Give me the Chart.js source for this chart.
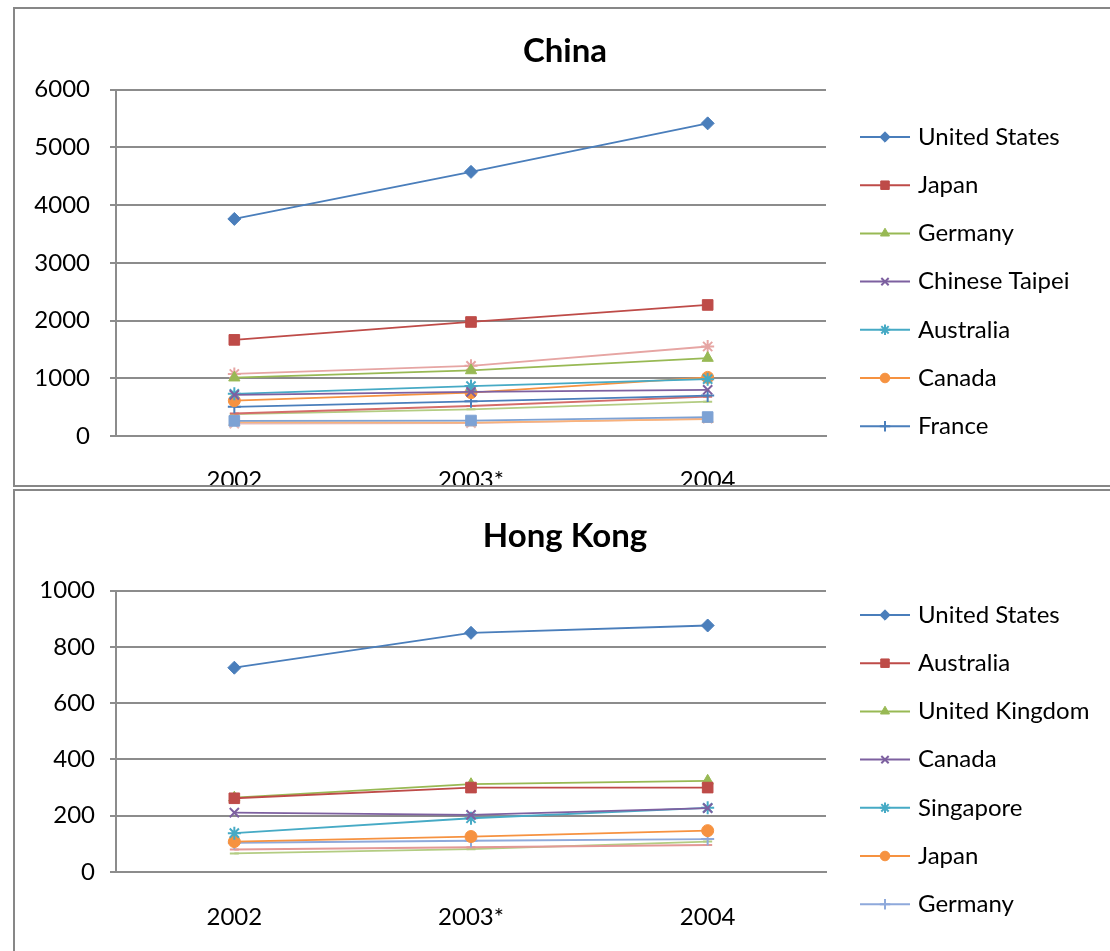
<!DOCTYPE html>
<html>
<head>
<meta charset="utf-8">
<script src="https://cdn.jsdelivr.net/npm/chart.js@4/dist/chart.umd.min.js"></script>
<style>
    html, body { margin: 0; padding: 0; background: #fff; overflow: hidden; }
    body { width: 1110px; height: 951px; position: relative; }
    canvas { position: absolute; left: 0; }
    .frame { position: absolute; left: 13px; width: 1200px; border: 2px solid #878787; border-right: none; pointer-events: none; }
</style>
</head>
<body>
<canvas id="chinaChart" width="1110" height="486" style="top:0"></canvas>
<canvas id="hongKongChart" width="1110" height="463" style="top:488px"></canvas>
<div class="frame" style="top:7px; height:476px;"></div>
<div class="frame" style="top:489px; height:500px;"></div>
<script>
// categories
const years = ['2002', '2003*', '2004'];

// China
const chinaNames = ['United States', 'Japan', 'Germany', 'Chinese Taipei', 'Australia', 'Canada', 'France',
    'Series 8', 'Series 9', 'Series 10', 'Series 11', 'Series 12', 'Series 13'];
const chinaUS = [3760, 4575, 5415];
const chinaJapan = [1665, 1975, 2270];
const chinaGermany = [1010, 1135, 1350];
const chinaTaipei = [712, 765, 800];
const chinaAustralia = [730, 865, 985];
const chinaCanada = [612, 751, 1015];
const chinaFrance = [505, 600, 700];
const chinaSeries8 = [390, 520, 682];
const chinaSeries9 = [380, 462, 595];
const chinaSeries10 = [1075, 1215, 1550];
const chinaSeries11 = [262, 268, 328];
const chinaSeries12 = [240, 232, 292];
const chinaSeries13 = [215, 222, 300];
const chinaTicks = [0, 1000, 2000, 3000, 4000, 5000, 6000];

// Hong Kong
const hongKongNames = ['United States', 'Australia', 'United Kingdom', 'Canada', 'Singapore', 'Japan', 'Germany',
    'Series 8', 'Series 9'];
const hkUS = [726, 850, 876];
const hkAustralia = [262, 300, 300];
const hkUK = [264, 312, 324];
const hkCanada = [211, 203, 227];
const hkSingapore = [138, 191, 228];
const hkJapan = [108, 126, 147];
const hkGermany = [104, 111, 117];
const hkSeries8 = [80, 88, 96];
const hkSeries9 = [66, 81, 108];
const hongKongTicks = [0, 200, 400, 600, 800, 1000];

const fontFamily = 'Lato, "Open Sans", sans-serif';
const textSize = 24;

// excel style series look, in series order
const seriesStyles = [
    { color: '#4A7EBB', point: 'rectRot', r: 6.5 },
    { color: '#BE4B48', point: 'rect', r: 7.5 },
    { color: '#98B954', point: 'triangle', r: 6.5 },
    { color: '#7D60A0', point: 'crossRot', r: 6.5 },
    { color: '#46AAC5', point: 'star', r: 6.5 },
    { color: '#F69240', point: 'circle', r: 6 },
    { color: '#4A7EBB', point: 'cross', r: 6.5 },
    { color: '#D46C6A', point: 'line', r: 4.5 },
    { color: '#B3CC82', point: 'line', r: 4.5 },
    { color: '#E6A5A3', point: 'star', r: 6.5 },
    { color: '#7DA2D4', point: 'rect', r: 7.5 },
    { color: '#F9B27A', point: 'triangle', r: 6.5 },
    { color: '#E6B9B8', point: 'crossRot', r: 6.5 }
];
const strokedPoints = ['cross', 'crossRot', 'star', 'line'];

// legend with line + marker sample, only the first rows fit (like the original)
const excelLegend = {
    id: 'excelLegend',
    afterDraw(chart, args, opts) {
        const ctx = chart.ctx;
        const x = chart.chartArea.right + opts.gap;
        ctx.save();
        chart.data.datasets.slice(0, opts.count).forEach((ds, i) => {
            const y = opts.top + i * opts.step;
            ctx.strokeStyle = ds.borderColor;
            ctx.lineWidth = 2;
            ctx.beginPath();
            ctx.moveTo(x, y);
            ctx.lineTo(x + 50, y);
            ctx.stroke();

            ctx.fillStyle = ds.pointBackgroundColor;
            ctx.strokeStyle = ds.pointBorderColor;
            ctx.lineWidth = ds.pointBorderWidth;
            if (Chart.helpers && Chart.helpers.drawPoint) {
                Chart.helpers.drawPoint(ctx, {
                    pointStyle: ds.pointStyle,
                    radius: ds.pointRadius * 0.8,
                    borderWidth: ds.pointBorderWidth,
                    rotation: 0
                }, x + 25, y);
            }

            ctx.fillStyle = '#000';
            ctx.font = `${textSize}px ${fontFamily}`;
            ctx.textAlign = 'left';
            ctx.textBaseline = 'middle';
            ctx.fillText(ds.label, x + 58, y);
        });
        ctx.restore();
    }
};

const buildDatasets = (names, seriesList, colorOverrides) => names.map((name, i) => {
    const st = seriesStyles[i];
    const color = (colorOverrides && colorOverrides[i]) || st.color;
    const stroked = strokedPoints.includes(st.point);
    return {
        label: name,
        data: seriesList[i],
        borderColor: color,
        borderWidth: 1.8,
        tension: 0,
        fill: false,
        pointStyle: st.point,
        pointRadius: st.r,
        pointBackgroundColor: color,
        pointBorderColor: color,
        pointBorderWidth: stroked ? 2 : 1
    };
});

const makeChart = (canvasId, title, datasets, ticks, cfg) => {
    const ctx = document.getElementById(canvasId).getContext('2d');
    return new Chart(ctx, {
        type: 'line',
        data: { labels: years, datasets },
        options: {
            responsive: false,
            animation: false,
            events: [],
            layout: { padding: { left: 20, right: 0, top: 0, bottom: 0 } },
            plugins: {
                legend: { display: false },
                tooltip: { enabled: false },
                title: {
                    display: true,
                    text: title,
                    color: '#000',
                    font: { family: fontFamily, size: 33, weight: 'bold', lineHeight: 1.2 },
                    padding: cfg.titlePadding
                },
                excelLegend: { top: cfg.legendTop, step: 48.2, count: 7, gap: 34 }
            },
            scales: {
                x: {
                    offset: true,
                    grid: { display: false },
                    border: { display: true, color: '#8c8c8c', width: 2 },
                    ticks: { color: '#000', font: { family: fontFamily, size: textSize }, padding: cfg.xPadding, maxRotation: 0 },
                    afterFit: s => { s.height = cfg.xHeight; }
                },
                y: {
                    min: ticks[0],
                    max: ticks[ticks.length - 1],
                    afterBuildTicks: s => { s.ticks = ticks.map(v => ({ value: v })); },
                    grid: { color: '#8c8c8c', lineWidth: 2, tickLength: 6 },
                    border: { color: '#8c8c8c', width: 2 },
                    ticks: {
                        color: '#000',
                        font: { family: fontFamily, size: textSize },
                        padding: cfg.yPadding,
                        callback: v => String(v)
                    },
                    afterFit: s => { s.width = 96; }
                },
                y2: {
                    position: 'right',
                    display: true,
                    ticks: { display: false },
                    grid: { display: false },
                    border: { display: false },
                    afterFit: s => { s.width = 284; }
                }
            }
        },
        plugins: [excelLegend]
    });
};

makeChart('chinaChart', 'China',
    buildDatasets(chinaNames, [chinaUS, chinaJapan, chinaGermany, chinaTaipei, chinaAustralia, chinaCanada, chinaFrance,
        chinaSeries8, chinaSeries9, chinaSeries10, chinaSeries11, chinaSeries12, chinaSeries13]),
    chinaTicks,
    { titlePadding: { top: 32, bottom: 18 }, legendTop: 137, xHeight: 50, xPadding: 22, yPadding: 20 });

makeChart('hongKongChart', 'Hong Kong',
    buildDatasets(hongKongNames, [hkUS, hkAustralia, hkUK, hkCanada, hkSingapore, hkJapan, hkGermany, hkSeries8, hkSeries9],
        { 6: '#8EA9DB', 7: '#E39896' }),
    hongKongTicks,
    { titlePadding: { top: 29, bottom: 34 }, legendTop: 127, xHeight: 79, xPadding: 23, yPadding: 15 });
</script>
</body>
</html>
